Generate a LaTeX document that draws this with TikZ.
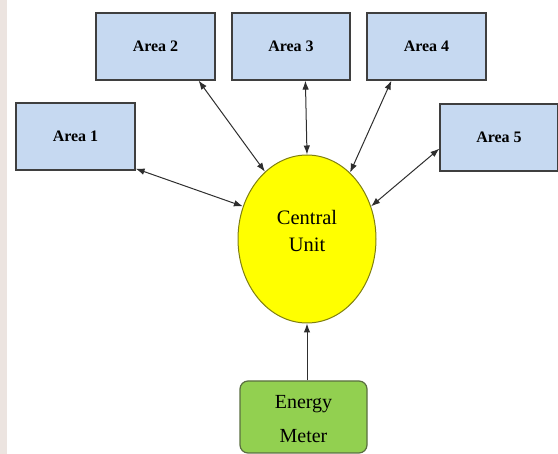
\documentclass[tikz,border=0pt]{standalone}
\usepackage{fontspec}
\setmainfont{Liberation Serif}
\usetikzlibrary{shapes.geometric,arrows.meta,calc}
\definecolor{boxblue}{HTML}{C6D9F1}
\definecolor{boxline}{HTML}{3F3F3F}
\definecolor{cuyellow}{HTML}{FFFF00}
\definecolor{culine}{HTML}{7F7F10}
\definecolor{emgreen}{HTML}{92D050}
\definecolor{emline}{HTML}{5A6E40}
\definecolor{arrowgray}{HTML}{2E2E2E}
\definecolor{band}{HTML}{ECE4E0}
\tikzset{
  areabox/.style={draw=boxline, fill=boxblue, line width=1.2pt, minimum width=119pt, minimum height=67pt, inner sep=0pt, font=\fontsize{16}{18}\selectfont\bfseries},
  conn/.style={draw=arrowgray, line width=1pt, {Latex[length=9pt,width=6.5pt]}-{Latex[length=9pt,width=6.5pt]}},
  oneway/.style={draw=arrowgray, line width=1pt, -{Latex[length=9pt,width=6.5pt]}},
  bigtext/.style={font=\fontsize{20.5}{27}\selectfont, align=center, inner sep=0pt}
}
\begin{document}
\begin{tikzpicture}[x=1pt,y=-1pt]
\useasboundingbox (0,0) rectangle (558,454);
\fill[band] (0,0) rectangle (7,454);
\node[areabox] (a1) at (75.5,136.5) {Area 1};
\node[areabox] (a2) at (155.5,46.5) {Area 2};
\node[areabox, minimum width=118pt] (a3) at (291,46.5) {Area 3};
\node[areabox] (a4) at (426.5,46.5) {Area 4};
\node[areabox, minimum width=118pt] (a5) at (499,137.5) {Area 5};
\node[ellipse, draw=culine, fill=cuyellow, line width=1pt, minimum width=138pt, minimum height=168pt, inner sep=0pt] (cu) at (307,239) {};
\node[bigtext] (cut) at ([yshift=8pt]cu.center) {Central\\Unit};
\node[draw=emline, fill=emgreen, line width=1.2pt, rounded corners=8pt, minimum width=127pt, minimum height=72pt, inner sep=0pt] (em) at (303.5,417) {};
\node[font=\fontsize{20}{34}\selectfont, align=center, inner sep=0pt] (emt) at (303.5,419) {Energy\\Meter};
\draw[conn] ([yshift=2pt]a1.south east) -- (cu.153);
\draw[conn] ([xshift=-17pt]a2.south east) -- (cu.122);
\draw[conn] ([xshift=74pt]a3.south west) -- (cu.90);
\draw[conn] ([xshift=25pt]a4.south west) -- (cu.57);
\draw[conn] ([yshift=23pt]a5.south west) -- (cu.27);
\draw[oneway] (em.north -| cu.south) -- (cu.south);
\end{tikzpicture}
\end{document}
